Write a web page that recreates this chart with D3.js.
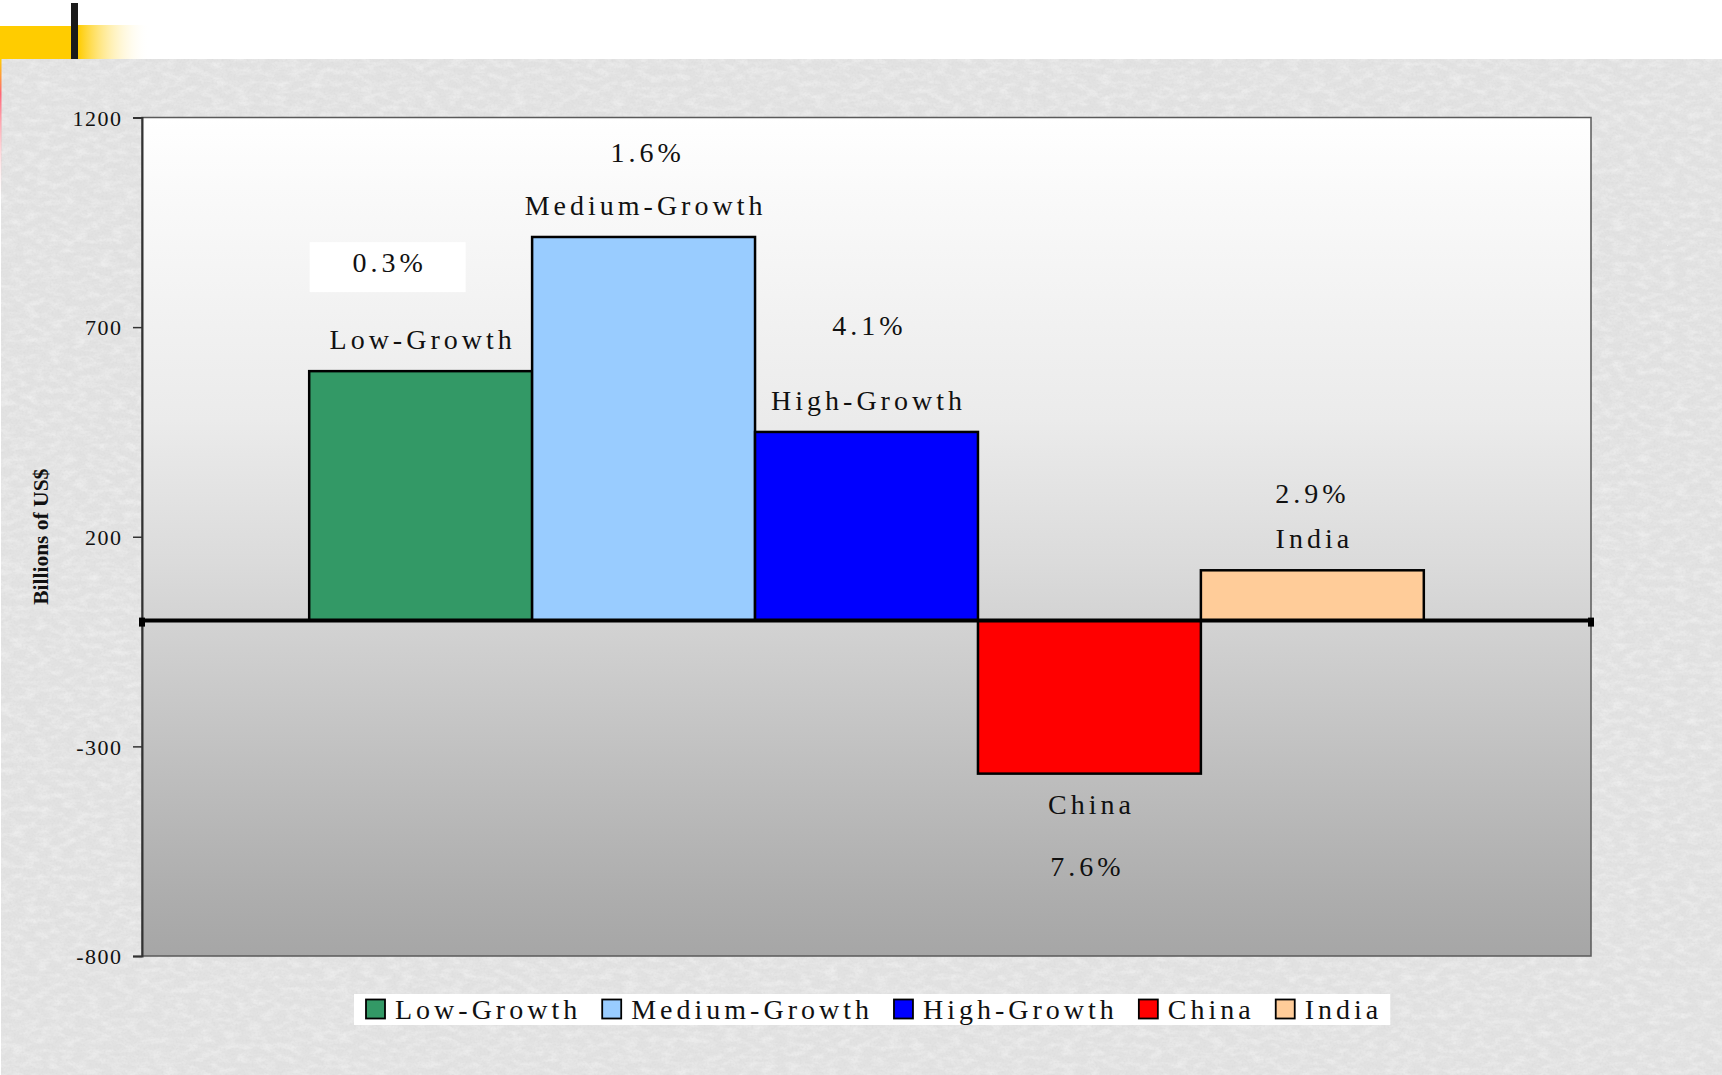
<!DOCTYPE html>
<html>
<head>
<meta charset="utf-8">
<script src="https://cdn.jsdelivr.net/npm/d3@7"></script>
<style>
  html, body { margin: 0; padding: 0; background: #ffffff; }
  svg { display: block; }
  text { font-family: "Liberation Serif", "Times New Roman", serif; fill: #111; }
</style>
</head>
<body>
<svg id="chart" width="1722" height="1075"></svg>
<script>
// Change in trade balance by group, billions of US$
const groups = ["Low-Growth", "Medium-Growth", "High-Growth", "China", "India"];
const values = [595, 915, 450, -365, 120];
const growthRates = ["0.3%", "1.6%", "4.1%", "7.6%", "2.9%"];
const colors = ["#339966", "#99ccff", "#0000ff", "#ff0000", "#ffcc99"];
const tickValues = [1200, 700, 200, -300, -800];
const yAxisTitle = "Billions of US$";

const W = 1722, H = 1075;
const plot = { left: 142, right: 1591, top: 117.5, bottom: 956 };

const svg = d3.select("#chart");
const defs = svg.append("defs");

// paper-like texture for the slide background
const tex = defs.append("filter").attr("id", "paper")
  .attr("x", 0).attr("y", 0).attr("width", "100%").attr("height", "100%");
tex.append("feTurbulence").attr("type", "fractalNoise")
  .attr("baseFrequency", "0.08 0.16").attr("numOctaves", 4).attr("seed", 7).attr("result", "n");
tex.append("feColorMatrix").attr("in", "n").attr("type", "matrix")
  .attr("values", "0 0 0 0 1  0 0 0 0 1  0 0 0 0 1  0.8 0 0 0 -0.33").attr("result", "w");
tex.append("feComposite").attr("in", "w").attr("in2", "SourceGraphic").attr("operator", "over");

const tex2 = defs.append("filter").attr("id", "grain")
  .attr("x", 0).attr("y", 0).attr("width", "100%").attr("height", "100%");
tex2.append("feTurbulence").attr("type", "fractalNoise")
  .attr("baseFrequency", "0.5").attr("numOctaves", 2).attr("seed", 3).attr("result", "n");
tex2.append("feColorMatrix").attr("in", "n").attr("type", "matrix")
  .attr("values", "0 0 0 0 0.55  0 0 0 0 0.55  0 0 0 0 0.55  0 0 0 -1.1 0.62");

// plot area gradient
const pg = defs.append("linearGradient").attr("id", "plotGrad")
  .attr("x1", 0).attr("y1", 0).attr("x2", 0).attr("y2", 1);
[[0, "#ffffff"], [0.1, "#f9f9f9"], [0.36, "#ebebeb"], [0.53, "#dbdbdb"],
 [0.6, "#d3d3d3"], [0.93, "#adadad"], [1, "#a6a6a6"]]
  .forEach(([o, c]) => pg.append("stop").attr("offset", o).attr("stop-color", c));

// header ornament gradient
const hg = defs.append("linearGradient").attr("id", "hdrGrad");
hg.append("stop").attr("offset", 0).attr("stop-color", "#ffcc00");
hg.append("stop").attr("offset", 1).attr("stop-color", "#ffffff").attr("stop-opacity", 0);

const lg = defs.append("linearGradient").attr("id", "edgeGrad")
  .attr("x1", 0).attr("y1", 0).attr("x2", 0).attr("y2", 1);
lg.append("stop").attr("offset", 0).attr("stop-color", "#ffcc00");
lg.append("stop").attr("offset", 0.25).attr("stop-color", "#ff6677");
lg.append("stop").attr("offset", 1).attr("stop-color", "#ffdddd").attr("stop-opacity", 0);

// slide background
svg.append("rect").attr("width", W).attr("height", H).attr("fill", "#ffffff");
const bg = svg.append("g");
bg.append("rect").attr("x", 1).attr("y", 59).attr("width", W - 1).attr("height", H - 59)
  .attr("fill", "#e2e2e2").attr("filter", "url(#paper)");
bg.append("rect").attr("x", 1).attr("y", 59).attr("width", W - 1).attr("height", H - 59)
  .attr("fill", "#000").attr("filter", "url(#grain)").attr("opacity", 0.35);

// header ornament
svg.append("rect").attr("x", 0).attr("y", 26).attr("width", 72).attr("height", 33).attr("fill", "#ffcc00");
svg.append("rect").attr("x", 78).attr("y", 25).attr("width", 72).attr("height", 34).attr("fill", "url(#hdrGrad)");
svg.append("rect").attr("x", 71).attr("y", 3).attr("width", 7).attr("height", 56).attr("fill", "#1a1a1a");
svg.append("rect").attr("x", 0).attr("y", 59).attr("width", 1.5).attr("height", 140).attr("fill", "url(#edgeGrad)");

// scales
const x = d3.scaleBand().domain(groups).range([plot.left, plot.right])
  .paddingInner(0).paddingOuter(0.75);
const y = d3.scaleLinear().domain([-800, 1200]).range([plot.bottom, plot.top]);

// plot area
svg.append("rect")
  .attr("x", plot.left).attr("y", plot.top)
  .attr("width", plot.right - plot.left).attr("height", plot.bottom - plot.top)
  .attr("fill", "url(#plotGrad)").attr("stroke", "#5a5a5a").attr("stroke-width", 1.5);

// y axis (plain hyphen for negatives)
const yAxis = d3.axisLeft(y).tickValues(tickValues).tickSize(9).tickPadding(12)
  .tickFormat(d => String(d));
const ag = svg.append("g").attr("transform", `translate(${plot.left},0)`).call(yAxis);
ag.select(".domain").attr("stroke", "#333").attr("stroke-width", 2);
ag.selectAll(".tick line").attr("stroke", "#333").attr("stroke-width", 1.5);
ag.selectAll(".tick text")
  .attr("font-family", "'Liberation Serif', 'Times New Roman', serif")
  .attr("font-size", 22).attr("letter-spacing", 1.5).attr("fill", "#111")
  .attr("dy", "0.35em").attr("dx", 1.5);

// y axis title
svg.append("text")
  .attr("transform", `translate(48,${(y(1200) + y(-800)) / 2}) rotate(-90)`)
  .attr("text-anchor", "middle")
  .attr("font-size", 21.5).attr("font-weight", "bold")
  .text(yAxisTitle);

// bars
const data = groups.map((g, i) => ({ g, v: values[i], c: colors[i], r: growthRates[i] }));
svg.append("g").selectAll("rect").data(data).join("rect")
  .attr("x", d => x(d.g))
  .attr("y", d => y(Math.max(0, d.v)))
  .attr("width", x.bandwidth())
  .attr("height", d => Math.abs(y(d.v) - y(0)))
  .attr("fill", d => d.c)
  .attr("stroke", "#000").attr("stroke-width", 2.5);

// zero line with end markers
svg.append("line")
  .attr("x1", plot.left).attr("x2", plot.right).attr("y1", y(0)).attr("y2", y(0))
  .attr("stroke", "#000").attr("stroke-width", 4);
[plot.left, plot.right].forEach(px => {
  svg.append("rect").attr("x", px - 3).attr("y", y(0) - 3).attr("width", 6).attr("height", 9)
    .attr("fill", "#000");
});

// name and growth-rate labels
const labelFont = 28, labelSpacing = 4.0;
const nameGap = 22;                       // baseline above bar top
const negNameGap = 40;                    // baseline below bar bottom
const rateGap = [77, 53, 75, 62, 45.5];   // rate baseline relative to name baseline
const rateShift = [-33, 2, 1, -4, -2];    // small horizontal nudges

const lab = svg.append("g").attr("font-size", labelFont).attr("letter-spacing", labelSpacing)
  .attr("text-anchor", "middle");

data.forEach((d, i) => {
  const cx = x(d.g) + x.bandwidth() / 2;
  let nameY, rateY;
  if (d.v >= 0) {
    nameY = y(d.v) - nameGap;
    rateY = nameY - rateGap[i];
  } else {
    nameY = y(d.v) + negNameGap;
    rateY = nameY + rateGap[i];
  }
  if (i === 0) {
    // boxed rate label
    lab.append("rect")
      .attr("x", cx + rateShift[i] - 78).attr("y", rateY - 30)
      .attr("width", 156).attr("height", 50).attr("fill", "#ffffff");
  }
  lab.append("text").attr("x", cx + labelSpacing / 2).attr("y", nameY).text(d.g);
  lab.append("text").attr("x", cx + rateShift[i] + labelSpacing / 2).attr("y", rateY).text(d.r);
});

// legend
const leg = svg.append("g");
const legBox = leg.append("rect").attr("y", 994).attr("height", 31).attr("fill", "#ffffff");
const legGap = 21;
let lx = 366;
data.forEach(d => {
  const it = leg.append("g");
  it.append("rect").attr("x", lx).attr("y", 999.5).attr("width", 19).attr("height", 19)
    .attr("fill", d.c).attr("stroke", "#000").attr("stroke-width", 1.8);
  const t = it.append("text").attr("x", lx + 29).attr("y", 1019)
    .attr("font-size", labelFont).attr("letter-spacing", labelSpacing).text(d.g);
  const w = t.node().getComputedTextLength();
  lx = lx + 29 + w + legGap;
});
legBox.attr("x", 354).attr("width", lx - legGap - 354 + 8);
</script>
</body>
</html>
